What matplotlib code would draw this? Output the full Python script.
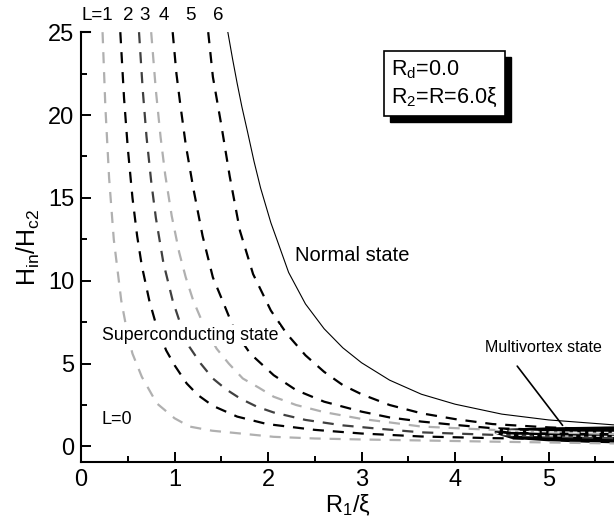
import matplotlib
matplotlib.use('Agg')
import matplotlib.pyplot as plt
from matplotlib.ticker import MultipleLocator
from matplotlib.patches import Rectangle

plt.rcParams['font.family'] = ['Liberation Sans', 'DejaVu Sans']
plt.rcParams['mathtext.fontset'] = 'custom'
plt.rcParams['mathtext.rm'] = 'Liberation Sans'
plt.rcParams['mathtext.it'] = 'Liberation Sans:italic'

# ---- data ----------------------------------------------------------------
# L=0/1 boundary
x1 = [0.23, 0.26, 0.30, 0.35, 0.43, 0.50, 0.55, 0.65, 0.81, 1.00, 1.16, 1.40, 1.67, 2.06, 2.50, 3.00, 3.64, 4.50, 5.70]
y1 = [25.0, 20.5, 16.2, 12.5, 8.8, 6.7, 5.6, 4.2, 2.6, 1.7, 1.2, 0.95, 0.8, 0.58, 0.48, 0.42, 0.36, 0.28, 0.18]
# L=1/2 boundary
x2 = [0.42, 0.46, 0.50, 0.55, 0.60, 0.65, 0.73, 0.80, 0.91, 1.00, 1.13, 1.25, 1.41, 1.67, 1.99, 2.50, 3.00, 3.64, 4.40, 5.70]
y2 = [25.0, 21.0, 18.0, 15.0, 12.7, 10.9, 8.8, 7.4, 5.8, 4.9, 3.8, 3.1, 2.45, 1.8, 1.35, 1.0, 0.78, 0.6, 0.5, 0.4]
# L=2/3 boundary
x3 = [0.62, 0.66, 0.70, 0.75, 0.80, 0.88, 0.98, 1.08, 1.16, 1.28, 1.41, 1.55, 1.70, 1.88, 2.06, 2.40, 2.80, 3.20, 3.64, 4.40, 5.00, 5.70]
y3 = [25.0, 21.5, 18.7, 16.0, 13.8, 11.1, 8.8, 7.1, 6.0, 5.0, 4.1, 3.45, 2.9, 2.4, 2.05, 1.6, 1.27, 1.06, 0.85, 0.7, 0.6, 0.5]
# L=3/4 boundary
x4 = [0.75, 0.80, 0.85, 0.90, 0.97, 1.05, 1.12, 1.20, 1.32, 1.45, 1.58, 1.73, 1.90, 2.06, 2.30, 2.60, 3.00, 3.30, 3.64, 4.40, 5.00, 5.70]
y4 = [25.0, 21.5, 18.7, 16.4, 13.9, 11.7, 10.2, 8.8, 7.2, 5.9, 5.0, 4.1, 3.55, 3.0, 2.5, 2.07, 1.66, 1.45, 1.2, 1.0, 0.85, 0.75]
# L=4/5 boundary
x5 = [0.98, 1.02, 1.06, 1.12, 1.20, 1.30, 1.41, 1.52, 1.65, 1.81, 2.06, 2.30, 2.60, 3.00, 3.30, 3.64, 4.00, 4.40, 5.00, 5.70]
y5 = [25.0, 22.5, 20.7, 18.2, 15.6, 12.7, 10.2, 8.7, 6.9, 5.6, 4.3, 3.4, 2.7, 2.1, 1.75, 1.5, 1.3, 1.1, 1.0, 0.9]
# L=5/6 boundary
x6 = [1.36, 1.41, 1.50, 1.59, 1.70, 1.84, 2.03, 2.20, 2.40, 2.60, 2.80, 3.00, 3.30, 3.64, 4.00, 4.40, 5.00, 5.70]
y6 = [25.0, 22.3, 19.4, 16.3, 13.0, 10.4, 8.2, 6.8, 5.5, 4.5, 3.7, 3.15, 2.5, 2.0, 1.65, 1.35, 1.15, 1.0]
# normal state boundary
xn = [1.57, 1.62, 1.67, 1.72, 1.78, 1.85, 1.92, 2.03, 2.10, 2.22, 2.40, 2.60, 2.80, 3.00, 3.30, 3.64, 4.00, 4.50, 5.00, 5.70]
yn = [25.0, 23.4, 21.9, 20.5, 19.0, 17.2, 15.6, 13.5, 12.4, 10.5, 8.6, 7.1, 5.95, 5.05, 4.0, 3.15, 2.55, 1.95, 1.6, 1.3]
# multivortex region
xm = [4.43, 4.60, 5.00, 5.40, 5.70]
ym_top = [1.0, 1.05, 1.12, 1.15, 1.18]
ym_bot = [0.85, 0.55, 0.4, 0.32, 0.28]

curves = [(x1, y1, '#b0b0b0'), (x2, y2, 'black'), (x3, y3, '#404040'),
          (x4, y4, '#b0b0b0'), (x5, y5, 'black'), (x6, y6, 'black')]
L_labels = ['L=1', '2', '3', '4', '5', '6']
L_pos = [0.17, 0.50, 0.68, 0.88, 1.17, 1.47]

fig = plt.figure(figsize=(6.14, 5.27), dpi=100)
ax = fig.add_axes([0.132, 0.123, 0.868, 0.816])

for x, y, c in curves:
    ax.plot(x, y, color=c, lw=1.6, dashes=(5, 4))
ax.plot(xn, yn, color='black', lw=0.8)

ax.fill_between(xm, ym_bot, ym_top, color='black', lw=1.5)
mid = [(a + b) / 2 for a, b in zip(ym_top, ym_bot)]
ax.plot(xm, [m + 0.12 for m in mid], color='white', lw=0.8, dashes=(4, 3))
ax.plot(xm, [m - 0.12 for m in mid], color='white', lw=0.8, dashes=(3, 4))

for lab, xp in zip(L_labels, L_pos):
    ax.text(xp, 26.0, lab, fontsize=13.5, ha='center', va='center', clip_on=False)

ax.text(2.29, 11.5, 'Normal state', fontsize=14.5, va='center')
ax.text(0.22, 6.7, 'Superconducting state', fontsize=12.8, va='center', zorder=5,
        bbox=dict(boxstyle='square,pad=0.1', fc='white', ec='none'))
ax.text(0.22, 1.6, 'L=0', fontsize=13, va='center')
ax.annotate('Multivortex state', xy=(5.15, 1.27), xytext=(4.32, 6.0), fontsize=11.5,
            va='center', arrowprops=dict(arrowstyle='-', color='black', lw=1.2,
                                         shrinkA=8, shrinkB=0, relpos=(0.2, 0)))

# parameter box with a drop shadow
box = ax.text(3.32, 21.9, 'R$_\\mathregular{d}$=0.0\nR$_\\mathregular{2}$=R=6.0ξ',
              fontsize=15.5, linespacing=1.3, va='center', zorder=7,
              bbox=dict(boxstyle='square,pad=0.35', fc='white', ec='black', lw=1.2))

ax.set_xlim(0, 5.7)
ax.set_ylim(-0.95, 25)
ax.xaxis.set_major_locator(MultipleLocator(1))
ax.xaxis.set_minor_locator(MultipleLocator(0.5))
ax.yaxis.set_major_locator(MultipleLocator(5))
ax.yaxis.set_minor_locator(MultipleLocator(2.5))
ax.tick_params(which='both', direction='in', width=1.4, labelsize=17, top=False, right=False)
ax.tick_params(which='major', length=7, pad=5)
ax.tick_params(which='minor', length=4)
ax.spines['right'].set_visible(False)
ax.spines['top'].set_bounds(0, 0.1)
for s in ['left', 'bottom', 'top']:
    ax.spines[s].set_linewidth(1.5)

ax.set_xlabel('R$_\\mathregular{1}$/ξ', fontsize=17, labelpad=1)
ax.set_ylabel('H$_\\mathregular{in}$/H$_\\mathregular{c2}$', fontsize=18, labelpad=4)

fig.canvas.draw()
bb = box.get_bbox_patch().get_window_extent()
ax.add_patch(Rectangle((bb.x0 + 6, bb.y0 - 6), bb.width, bb.height, transform=None,
                       facecolor='black', edgecolor='black', zorder=6))

plt.savefig('out.png', dpi=100)
